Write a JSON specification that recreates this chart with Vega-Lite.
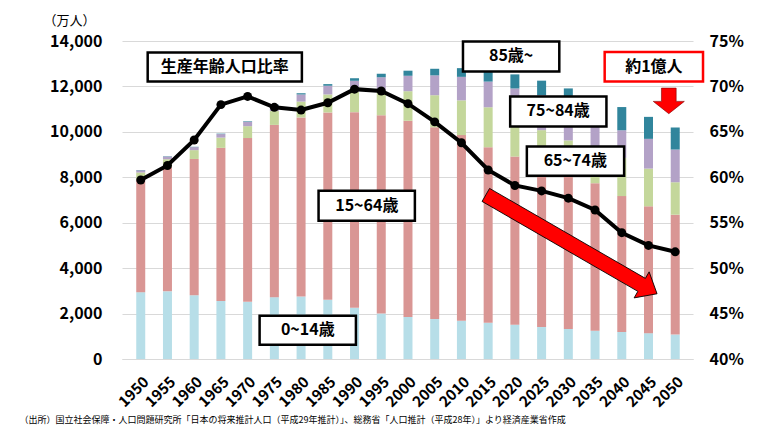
{
  "$schema": "https://vega.github.io/schema/vega-lite/v6.json",
  "autosize": {"type": "none"},
  "width": 571,
  "height": 318,
  "padding": {"left": 122, "top": 41, "right": 87, "bottom": 80},
  "background": "white",
  "config": {"view": {"stroke": null}, "font": "Noto Sans CJK JP", "axis": {"labelOverlap": false, "labelFlush": false}, "axisBottom": {"labelPadding": 15, "labelDx": -7}},
  "datasets": {
    "pop": [
      {"year":1950,"age":"0~14歳","pop":2943},{"year":1950,"age":"15~64歳","pop":4966},{"year":1950,"age":"65~74歳","pop":302},{"year":1950,"age":"75~84歳","pop":95},{"year":1950,"age":"85歳~","pop":14},
      {"year":1955,"age":"0~14歳","pop":2980},{"year":1955,"age":"15~64歳","pop":5473},{"year":1955,"age":"65~74歳","pop":342},{"year":1955,"age":"75~84歳","pop":119},{"year":1955,"age":"85歳~","pop":14},
      {"year":1960,"age":"0~14歳","pop":2807},{"year":1960,"age":"15~64歳","pop":6000},{"year":1960,"age":"65~74歳","pop":388},{"year":1960,"age":"75~84歳","pop":132},{"year":1960,"age":"85歳~","pop":15},
      {"year":1965,"age":"0~14歳","pop":2553},{"year":1965,"age":"15~64歳","pop":6744},{"year":1965,"age":"65~74歳","pop":450},{"year":1965,"age":"75~84歳","pop":155},{"year":1965,"age":"85歳~","pop":19},
      {"year":1970,"age":"0~14歳","pop":2515},{"year":1970,"age":"15~64歳","pop":7212},{"year":1970,"age":"65~74歳","pop":523},{"year":1970,"age":"75~84歳","pop":192},{"year":1970,"age":"85歳~","pop":24},
      {"year":1975,"age":"0~14歳","pop":2722},{"year":1975,"age":"15~64歳","pop":7584},{"year":1975,"age":"65~74歳","pop":610},{"year":1975,"age":"75~84歳","pop":241},{"year":1975,"age":"85歳~","pop":36},
      {"year":1980,"age":"0~14歳","pop":2751},{"year":1980,"age":"15~64歳","pop":7884},{"year":1980,"age":"65~74歳","pop":699},{"year":1980,"age":"75~84歳","pop":313},{"year":1980,"age":"85歳~","pop":53},
      {"year":1985,"age":"0~14歳","pop":2604},{"year":1985,"age":"15~64歳","pop":8251},{"year":1985,"age":"65~74歳","pop":792},{"year":1985,"age":"75~84歳","pop":383},{"year":1985,"age":"85歳~","pop":72},
      {"year":1990,"age":"0~14歳","pop":2254},{"year":1990,"age":"15~64歳","pop":8614},{"year":1990,"age":"65~74歳","pop":892},{"year":1990,"age":"75~84歳","pop":489},{"year":1990,"age":"85歳~","pop":112},
      {"year":1995,"age":"0~14歳","pop":2003},{"year":1995,"age":"15~64歳","pop":8726},{"year":1995,"age":"65~74歳","pop":1109},{"year":1995,"age":"75~84歳","pop":566},{"year":1995,"age":"85歳~","pop":153},
      {"year":2000,"age":"0~14歳","pop":1851},{"year":2000,"age":"15~64歳","pop":8638},{"year":2000,"age":"65~74歳","pop":1301},{"year":2000,"age":"75~84歳","pop":679},{"year":2000,"age":"85歳~","pop":224},
      {"year":2005,"age":"0~14歳","pop":1759},{"year":2005,"age":"15~64歳","pop":8442},{"year":2005,"age":"65~74歳","pop":1412},{"year":2005,"age":"75~84歳","pop":873},{"year":2005,"age":"85歳~","pop":291},
      {"year":2010,"age":"0~14歳","pop":1684},{"year":2010,"age":"15~64歳","pop":8173},{"year":2010,"age":"65~74歳","pop":1529},{"year":2010,"age":"75~84歳","pop":1036},{"year":2010,"age":"85歳~","pop":383},
      {"year":2015,"age":"0~14歳","pop":1595},{"year":2015,"age":"15~64歳","pop":7728},{"year":2015,"age":"65~74歳","pop":1760},{"year":2015,"age":"75~84歳","pop":1130},{"year":2015,"age":"85歳~","pop":497},
      {"year":2020,"age":"0~14歳","pop":1507},{"year":2020,"age":"15~64歳","pop":7406},{"year":2020,"age":"65~74歳","pop":1747},{"year":2020,"age":"75~84歳","pop":1250},{"year":2020,"age":"85歳~","pop":620},
      {"year":2025,"age":"0~14歳","pop":1407},{"year":2025,"age":"15~64歳","pop":7170},{"year":2025,"age":"65~74歳","pop":1497},{"year":2025,"age":"75~84歳","pop":1540},{"year":2025,"age":"85歳~","pop":640},
      {"year":2030,"age":"0~14歳","pop":1321},{"year":2030,"age":"15~64歳","pop":6875},{"year":2030,"age":"65~74歳","pop":1428},{"year":2030,"age":"75~84歳","pop":1440},{"year":2030,"age":"85歳~","pop":848},
      {"year":2035,"age":"0~14歳","pop":1246},{"year":2035,"age":"15~64歳","pop":6494},{"year":2035,"age":"65~74歳","pop":1522},{"year":2035,"age":"75~84歳","pop":1250},{"year":2035,"age":"85歳~","pop":1010},
      {"year":2040,"age":"0~14歳","pop":1194},{"year":2040,"age":"15~64歳","pop":5978},{"year":2040,"age":"65~74歳","pop":1683},{"year":2040,"age":"75~84歳","pop":1215},{"year":2040,"age":"85歳~","pop":1022},
      {"year":2045,"age":"0~14歳","pop":1138},{"year":2045,"age":"15~64歳","pop":5584},{"year":2045,"age":"65~74歳","pop":1660},{"year":2045,"age":"75~84歳","pop":1310},{"year":2045,"age":"85歳~","pop":968},
      {"year":2050,"age":"0~14歳","pop":1077},{"year":2050,"age":"15~64歳","pop":5275},{"year":2050,"age":"65~74歳","pop":1430},{"year":2050,"age":"75~84歳","pop":1440},{"year":2050,"age":"85歳~","pop":970}
    ],
    "ratio": [
      {"year":1950,"ratio":0.597},{"year":1955,"ratio":0.613},{"year":1960,"ratio":0.641},{"year":1965,"ratio":0.680},{"year":1970,"ratio":0.689},
      {"year":1975,"ratio":0.677},{"year":1980,"ratio":0.674},{"year":1985,"ratio":0.682},{"year":1990,"ratio":0.697},{"year":1995,"ratio":0.695},
      {"year":2000,"ratio":0.681},{"year":2005,"ratio":0.661},{"year":2010,"ratio":0.638},{"year":2015,"ratio":0.608},{"year":2020,"ratio":0.591},
      {"year":2025,"ratio":0.585},{"year":2030,"ratio":0.577},{"year":2035,"ratio":0.564},{"year":2040,"ratio":0.539},{"year":2045,"ratio":0.525},{"year":2050,"ratio":0.518}
    ],
    "boxes": [
      {"label":"生産年齢人口比率","x":1951.3,"x2":1980.15,"y":13498,"y2":12222,"cx":1965.7,"cy":12860},
      {"label":"15~64歳","x":1983.27,"x2":2001.29,"y":7410,"y2":6089,"cx":1992.3,"cy":6750},
      {"label":"0~14歳","x":1972.24,"x2":1990.26,"y":1906,"y2":630,"cx":1981.25,"cy":1268},
      {"label":"85歳~","x":2010.29,"x2":2028.31,"y":13983,"y2":12662,"cx":2019.3,"cy":13322},
      {"label":"75~84歳","x":2019.12,"x2":2037.13,"y":11561,"y2":10240,"cx":2028.1,"cy":10900},
      {"label":"65~74歳","x":2022.24,"x2":2040.44,"y":9360,"y2":8070,"cx":2031.3,"cy":8715},
      {"label":"約1億人","x":2036.8,"x2":2055.2,"y":13515,"y2":12222,"cx":2046.0,"cy":12868}
    ]
  },
  "layer": [
    {
      "layer": [
        {
          "data": {"name": "pop"},
          "mark": {"type": "bar", "size": 9},
          "encoding": {
            "x": {"field": "year", "type": "quantitative", "scale": {"domain": [1947.43, 2052.39], "nice": false, "zero": false},
              "axis": {"values": [1950,1955,1960,1965,1970,1975,1980,1985,1990,1995,2000,2005,2010,2015,2020,2025,2030,2035,2040,2045,2050],
                "format": "d", "labelAngle": -45, "labelFontSize": 15, "labelFontWeight": "bold", "labelColor": "#000000",
                "labelFont": "Noto Sans CJK JP", "ticks": false, "grid": false, "domain": true, "domainColor": "#d9d9d9", "title": null, "labelOverlap": false}},
            "y": {"field": "pop", "type": "quantitative", "stack": "zero", "scale": {"domain": [0, 14000], "nice": false},
              "axis": {"values": [0,2000,4000,6000,8000,10000,12000,14000], "format": ",", "labelExpr": "format(datum.value, ',')", "grid": true, "gridColor": "#d9d9d9", "gridWidth": 1,
                "domain": false, "ticks": false, "labelFontSize": 16, "labelFontWeight": "bold", "labelColor": "#000000", "labelFont": "Noto Sans CJK JP",
                "labelPadding": 20, "title": "（万人）", "titleAngle": 0, "titleAlign": "left", "titleBaseline": "middle", "titleX": -79, "titleY": -21,
                "titleFontSize": 13, "titleFontWeight": "normal", "titleColor": "#000000", "titleFont": "Noto Sans CJK JP"}},
            "color": {"field": "age", "type": "nominal", "legend": null,
              "scale": {"domain": ["0~14歳","15~64歳","65~74歳","75~84歳","85歳~"], "range": ["#b7dee8","#d99694","#c4d79b","#b3a2c7","#31859c"]}},
            "order": {"field": "age", "type": "nominal", "sort": "ascending"}
          }
        },
        {
          "data": {"name": "boxes"},
          "mark": {"type": "rect", "fill": "white", "strokeWidth": 2.5},
          "encoding": {
            "x": {"field": "x", "type": "quantitative", "axis": {"values": [1950,1955,1960,1965,1970,1975,1980,1985,1990,1995,2000,2005,2010,2015,2020,2025,2030,2035,2040,2045,2050], "format": "d", "labelOverlap": false, "title": null}},
            "x2": {"field": "x2"},
            "y": {"field": "y", "type": "quantitative", "axis": {"format": ",", "labelExpr": "format(datum.value, ',')", "title": "（万人）"}},
            "y2": {"field": "y2"},
            "stroke": {"condition": {"test": "datum.label === '約1億人'", "value": "#ff0000"}, "value": "#000000"}
          }
        },
        {
          "data": {"name": "boxes"},
          "mark": {"type": "text", "fontSize": 16, "fontWeight": "bold", "font": "Noto Sans CJK JP", "color": "#000000", "align": "center", "baseline": "middle"},
          "encoding": {
            "x": {"field": "cx", "type": "quantitative", "axis": {"values": [1950,1955,1960,1965,1970,1975,1980,1985,1990,1995,2000,2005,2010,2015,2020,2025,2030,2035,2040,2045,2050], "format": "d", "labelOverlap": false, "title": null}},
            "y": {"field": "cy", "type": "quantitative", "axis": {"format": ",", "labelExpr": "format(datum.value, ',')", "title": "（万人）"}},
            "text": {"field": "label"}
          }
        },
        {
          "data": {"values": [{"year": 2030.58, "pop": 5048}]},
          "mark": {"type": "point", "filled": true, "fill": "#ff0000", "stroke": "#000000", "strokeWidth": 0.8, "opacity": 1, "size": 39085, "angle": 30,
            "shape": "M-1,-0.076 L0.82,-0.076 L0.82,-0.152 L1,0 L0.82,0.152 L0.82,0.076 L-1,0.076 Z"},
          "encoding": {
            "x": {"field": "year", "type": "quantitative", "axis": {"values": [1950,1955,1960,1965,1970,1975,1980,1985,1990,1995,2000,2005,2010,2015,2020,2025,2030,2035,2040,2045,2050], "format": "d", "labelOverlap": false, "title": null}},
            "y": {"field": "pop", "type": "quantitative", "axis": {"format": ",", "labelExpr": "format(datum.value, ',')", "title": "（万人）"}}
          }
        },
        {
          "data": {"values": [{"year": 2048.8, "pop": 11363}]},
          "mark": {"type": "point", "filled": true, "fill": "#ff0000", "stroke": "#7f0000", "strokeWidth": 0.6, "opacity": 1, "size": 1024,
            "shape": "M-0.46,-0.8 L0.46,-0.8 L0.46,0.03 L0.97,0.03 L0,0.8 L-0.97,0.03 L-0.46,0.03 Z"},
          "encoding": {
            "x": {"field": "year", "type": "quantitative", "axis": {"values": [1950,1955,1960,1965,1970,1975,1980,1985,1990,1995,2000,2005,2010,2015,2020,2025,2030,2035,2040,2045,2050], "format": "d", "labelOverlap": false, "title": null}},
            "y": {"field": "pop", "type": "quantitative", "axis": {"format": ",", "labelExpr": "format(datum.value, ',')", "title": "（万人）"}}
          }
        },
        {
          "data": {"values": [{"year": 1927.33, "pop": -2694, "note": "（出所）国立社会保障・人口問題研究所「日本の将来推計人口（平成29年推計）」、総務省「人口推計（平成28年）」より経済産業省作成"}]},
          "mark": {"type": "text", "fontSize": 9, "font": "Noto Sans CJK JP", "color": "#000000", "align": "left", "baseline": "middle"},
          "encoding": {
            "x": {"field": "year", "type": "quantitative", "axis": {"values": [1950,1955,1960,1965,1970,1975,1980,1985,1990,1995,2000,2005,2010,2015,2020,2025,2030,2035,2040,2045,2050], "format": "d", "labelOverlap": false, "title": null}},
            "y": {"field": "pop", "type": "quantitative", "axis": {"format": ",", "labelExpr": "format(datum.value, ',')", "title": "（万人）"}},
            "text": {"field": "note"}
          }
        }
      ]
    },
    {
      "data": {"name": "ratio"},
      "layer": [
        {"mark": {"type": "line", "color": "#000000", "strokeWidth": 4}},
        {"mark": {"type": "point", "filled": true, "color": "#000000", "size": 80, "opacity": 1}}
      ],
      "encoding": {
        "x": {"field": "year", "type": "quantitative",
          "axis": {"values": [1950,1955,1960,1965,1970,1975,1980,1985,1990,1995,2000,2005,2010,2015,2020,2025,2030,2035,2040,2045,2050],
            "format": "d", "labelAngle": -45, "labelFontSize": 15, "labelFontWeight": "bold", "labelColor": "#000000",
            "labelFont": "Noto Sans CJK JP", "ticks": false, "grid": false, "domain": true, "domainColor": "#d9d9d9", "title": null, "labelOverlap": false}},
        "y": {"field": "ratio", "type": "quantitative", "scale": {"domain": [0.40, 0.75], "nice": false, "zero": false},
          "axis": {"orient": "right", "values": [0.40,0.45,0.50,0.55,0.60,0.65,0.70,0.75], "format": ".0%", "grid": false, "domain": false, "ticks": false,
            "labelFontSize": 16, "labelFontWeight": "bold", "labelColor": "#000000", "labelFont": "Noto Sans CJK JP", "labelPadding": 16, "title": null}}
      }
    }
  ],
  "resolve": {"scale": {"y": "independent"}}
}
